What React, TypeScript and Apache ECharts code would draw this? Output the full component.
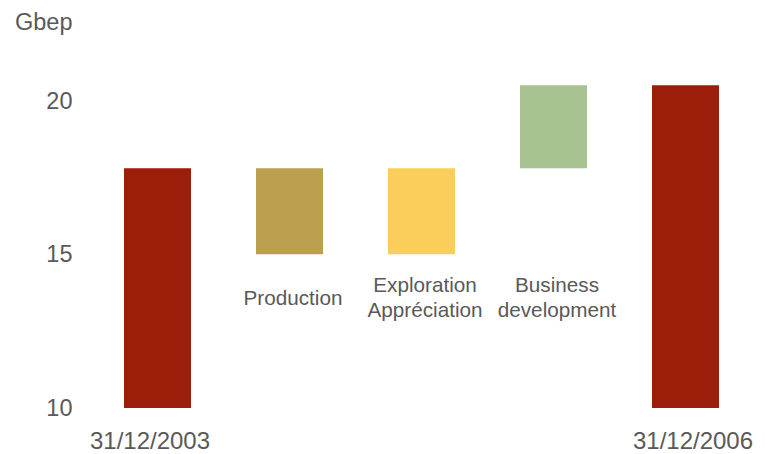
import React, { useEffect, useRef } from "react";
import * as echarts from "echarts";

const categories = [
  "31/12/2003",
  "Production",
  "Exploration\nAppréciation",
  "Business\ndevelopment",
  "31/12/2006",
];
const startValue = 17.8;
const deltas = [-2.8, 2.8, 2.7];
const endValue = 20.5;
const barColors = ["#9B1D0A", "#BBA14F", "#FBCE5B", "#A8C292", "#9B1D0A"];
const yTicks = [10, 15, 20];
const unitLabel = "Gbep";

const FONT = "'Liberation Sans', Arial, sans-serif";
const TEXT = "#595959";

export default function App() {
  const ref = useRef<HTMLDivElement>(null);
  useEffect(() => {
    if (!ref.current) return;
    const chart = echarts.init(ref.current, undefined, { renderer: "svg" });

    // waterfall: invisible base + visible height
    const base: number[] = [];
    const visible: any[] = [];
    base.push(0);
    visible.push(startValue);
    let running = startValue;
    deltas.forEach((d) => {
      const next = running + d;
      base.push(Math.min(running, next));
      visible.push(Math.abs(d));
      running = next;
    });
    base.push(0);
    visible.push(endValue);

    const visData = visible.map((v, i) => ({
      value: v,
      itemStyle: { color: barColors[i] },
    }));

    const last = categories.length - 1;
    chart.setOption({
      animation: false,
      textStyle: { fontFamily: FONT },
      title: {
        text: unitLabel,
        left: 10,
        top: 5,
        textStyle: { fontSize: 23.5, fontWeight: "normal", color: TEXT, fontFamily: FONT },
      },
      grid: { left: 91.5, right: 13.5, top: 70, bottom: 46, containLabel: false },
      xAxis: [
        {
          type: "category",
          data: categories.map((c, i) =>
            i === 0
              ? { value: c, textStyle: { padding: [0, 15, 0, 0] } }
              : i === last
              ? { value: c, textStyle: { padding: [0, 0, 0, 15] } }
              : c
          ),
          axisLine: { show: false },
          axisTick: { show: false },
          axisLabel: {
            interval: 0,
            margin: 20,
            fontSize: 24,
            color: TEXT,
            fontFamily: FONT,
            formatter: (v: string, i: number) => (i === 0 || i === last ? v : ""),
          },
        },
        {
          type: "category",
          position: "bottom",
          offset: -111,
          data: categories,
          axisLine: { show: false },
          axisTick: { show: false },
          axisLabel: {
            interval: 0,
            margin: 0,
            fontSize: 20.7,
            lineHeight: 25,
            verticalAlign: "middle",
            padding: [0, 0, 0, 7],
            color: TEXT,
            fontFamily: FONT,
            formatter: (v: string, i: number) => (i === 0 || i === last ? "" : v),
          },
        },
      ],
      yAxis: {
        type: "value",
        min: 10,
        max: 21,
        interval: 5,
        axisLine: { show: false },
        axisTick: { show: false },
        splitLine: { show: false },
        axisLabel: {
          margin: 19,
          fontSize: 23.5,
          color: TEXT,
          fontFamily: FONT,
          formatter: (v: number) => (yTicks.includes(v) ? String(v) : ""),
        },
      },
      series: [
        {
          type: "bar",
          stack: "w",
          barWidth: 67,
          data: base,
          itemStyle: { color: "transparent" },
          silent: true,
        },
        {
          type: "bar",
          stack: "w",
          barWidth: 67,
          data: visData,
        },
      ],
    });
    return () => chart.dispose();
  }, []);
  return (
    <div
      ref={ref}
      style={{ position: "absolute", left: 0, top: 0, width: 765, height: 454, background: "#fff" }}
    />
  );
}
